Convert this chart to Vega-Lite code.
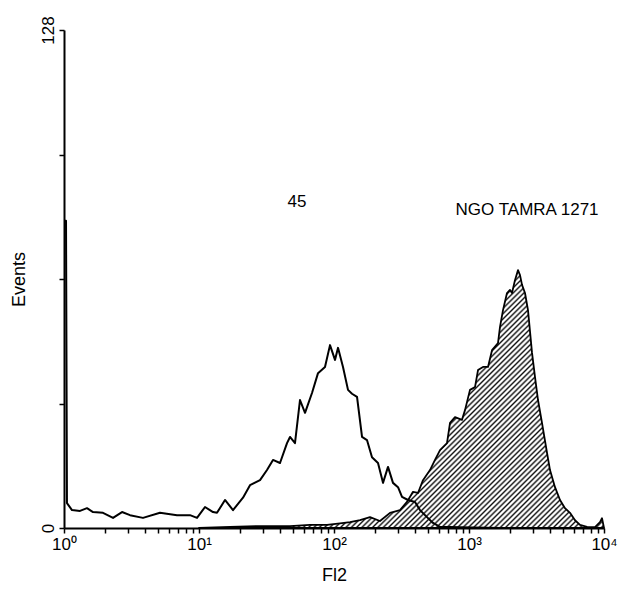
{
 "$schema": "https://vega.github.io/schema/vega-lite/v6.json",
 "width": 540,
 "height": 498,
 "autosize": "none",
 "padding": {"left": 64, "top": 30, "right": 37, "bottom": 66},
 "background": "white",
 "config": {"view": {"stroke": null}, "font": "Liberation Sans"},
 "datasets": {
  "open": [
   {"fl2": 1, "events": 79}, {"fl2": 1.035, "events": 79}, {"fl2": 1.052, "events": 6.4}, {"fl2": 1.146, "events": 4.6},
   {"fl2": 1.314, "events": 4.4}, {"fl2": 1.48, "events": 5.1}, {"fl2": 1.64, "events": 4.1}, {"fl2": 1.945, "events": 3.9},
   {"fl2": 2.307, "events": 2.6}, {"fl2": 2.69, "events": 4.1}, {"fl2": 3.083, "events": 3.3}, {"fl2": 3.847, "events": 2.6},
   {"fl2": 5.141, "events": 3.9}, {"fl2": 6.871, "events": 3.3}, {"fl2": 8.577, "events": 3.3}, {"fl2": 9.665, "events": 2.6},
   {"fl2": 11.08, "events": 5.4}, {"fl2": 12.7, "events": 4.1}, {"fl2": 13.59, "events": 3.9}, {"fl2": 15.58, "events": 7.2},
   {"fl2": 17.86, "events": 4.6}, {"fl2": 21.18, "events": 7.8}, {"fl2": 23.87, "events": 11}, {"fl2": 28.31, "events": 12.3},
   {"fl2": 31.89, "events": 14.9}, {"fl2": 35.33, "events": 17.5}, {"fl2": 39.81, "events": 16.7}, {"fl2": 44.87, "events": 21.8},
   {"fl2": 47.22, "events": 23.4}, {"fl2": 51.41, "events": 21.8}, {"fl2": 55.99, "events": 32.9}, {"fl2": 60.99, "events": 29.6},
   {"fl2": 68.71, "events": 34.7}, {"fl2": 76.13, "events": 39.8}, {"fl2": 85.77, "events": 41.4}, {"fl2": 93.41, "events": 47},
   {"fl2": 101.7, "events": 43.2}, {"fl2": 107.1, "events": 46.3}, {"fl2": 116.6, "events": 41.4}, {"fl2": 127, "events": 35.5},
   {"fl2": 135.9, "events": 34.5}, {"fl2": 148.1, "events": 33.7}, {"fl2": 161.3, "events": 23.4}, {"fl2": 175.5, "events": 22.6},
   {"fl2": 191.2, "events": 18.2}, {"fl2": 211.8, "events": 16.7}, {"fl2": 230.7, "events": 11.6}, {"fl2": 251.2, "events": 15.7},
   {"fl2": 273.5, "events": 11.6}, {"fl2": 298, "events": 10.5}, {"fl2": 319, "events": 8}, {"fl2": 353.3, "events": 7.2},
   {"fl2": 398.1, "events": 6.7}, {"fl2": 433.5, "events": 4.6}, {"fl2": 488.6, "events": 2.8}, {"fl2": 541.2, "events": 1.3},
   {"fl2": 610, "events": 0.3}, {"fl2": 857.7, "events": 0.2}, {"fl2": 1697, "events": 0}, {"fl2": 3981, "events": 0},
   {"fl2": 10000, "events": 0}
  ],
  "filled": [
   {"fl2": 10, "events": 0}, {"fl2": 16.97, "events": 0.3}, {"fl2": 28.31, "events": 0.5}, {"fl2": 47.22, "events": 0.5},
   {"fl2": 66.4, "events": 0.8}, {"fl2": 88.8, "events": 0.8}, {"fl2": 110.8, "events": 1.2}, {"fl2": 131.4, "events": 1.5},
   {"fl2": 155.8, "events": 2.0}, {"fl2": 184.8, "events": 2.8}, {"fl2": 219.1, "events": 1.8}, {"fl2": 259.9, "events": 3.9},
   {"fl2": 308.2, "events": 4.6}, {"fl2": 347.3, "events": 6.7}, {"fl2": 384.8, "events": 9.3}, {"fl2": 419, "events": 9.0},
   {"fl2": 456.3, "events": 12.3}, {"fl2": 514.1, "events": 14.9}, {"fl2": 560, "events": 17.5}, {"fl2": 610, "events": 20},
   {"fl2": 687.1, "events": 21.8}, {"fl2": 723.4, "events": 27}, {"fl2": 787.7, "events": 28.5}, {"fl2": 887.4, "events": 27.8},
   {"fl2": 934.1, "events": 30.3}, {"fl2": 1017, "events": 35.5}, {"fl2": 1108, "events": 36.2}, {"fl2": 1166, "events": 40.6},
   {"fl2": 1270, "events": 41.4}, {"fl2": 1383, "events": 41.4}, {"fl2": 1481, "events": 45.7}, {"fl2": 1640, "events": 47.5},
   {"fl2": 1697, "events": 51.7}, {"fl2": 1786, "events": 56}, {"fl2": 1912, "events": 60.4}, {"fl2": 2012, "events": 61.2},
   {"fl2": 2082, "events": 60.4}, {"fl2": 2191, "events": 63.7}, {"fl2": 2307, "events": 66.3}, {"fl2": 2387, "events": 65},
   {"fl2": 2470, "events": 62.5}, {"fl2": 2599, "events": 60.4}, {"fl2": 2735, "events": 56}, {"fl2": 2930, "events": 45},
   {"fl2": 3083, "events": 38.8}, {"fl2": 3244, "events": 32.9}, {"fl2": 3473, "events": 27}, {"fl2": 3784, "events": 19.3},
   {"fl2": 3981, "events": 14.9}, {"fl2": 4335, "events": 10.5}, {"fl2": 4722, "events": 7.2}, {"fl2": 5141, "events": 5.1},
   {"fl2": 5599, "events": 3.9}, {"fl2": 6099, "events": 2}, {"fl2": 6642, "events": 0.8}, {"fl2": 7484, "events": 0.3},
   {"fl2": 8577, "events": 0.2}, {"fl2": 9341, "events": 1.5}, {"fl2": 9665, "events": 2.5}, {"fl2": 10000, "events": 0}
  ],
  "notes": [
   {"fl2": 53.2, "events": 83.8, "label": "45"},
   {"fl2": 2691, "events": 81.7, "label": "NGO TAMRA 1271"}
  ]
 },
 "encoding": {
  "x": {
   "field": "fl2", "type": "quantitative",
   "scale": {"type": "log", "domain": [1, 10000]},
   "axis": {
    "title": "Fl2",
    "values": [1,2,3,4,5,6,7,8,9,10,20,30,40,50,60,70,80,90,100,200,300,400,500,600,700,800,900,1000,2000,3000,4000,5000,6000,7000,8000,9000,10000],
    "labelExpr": "datum.value==1?'10⁰':datum.value==10?'10¹':datum.value==100?'10²':datum.value==1000?'10³':datum.value==10000?'10⁴':''",
    "labelOverlap": false, "labelFlush": false, "grid": false,
    "tickSize": 5, "tickWidth": 1.5, "tickColor": "black",
    "domainColor": "black", "domainWidth": 2,
    "labelColor": "black", "labelFontSize": 17, "labelFont": "Liberation Sans", "labelPadding": 3,
    "titleColor": "black", "titleFontSize": 18, "titleFontWeight": "normal", "titleFont": "Liberation Sans", "titlePadding": 14
   }
  },
  "y": {
   "field": "events", "type": "quantitative",
   "scale": {"domain": [0, 128], "nice": false},
   "axis": {
    "title": "Events",
    "values": [0, 32, 64, 96, 128],
    "labelExpr": "datum.value==0||datum.value==128?datum.label:''",
    "labelAngle": -90, "grid": false,
    "tickSize": 5, "tickWidth": 1.5, "tickColor": "black",
    "domainColor": "black", "domainWidth": 2,
    "labelColor": "black", "labelFontSize": 17, "labelFont": "Liberation Sans", "labelPadding": 2,
    "titleColor": "black", "titleFontSize": 18, "titleFontWeight": "normal", "titleFont": "Liberation Sans", "titlePadding": 11
   }
  }
 },
 "layer": [
  {
   "data": {"name": "filled"},
   "mark": {
    "type": "area", "stroke": "black", "strokeWidth": 1.8, "strokeJoin": "round",
    "fill": {"gradient": "linear", "x1": 0, "y1": 0, "x2": 1.163, "y2": 0.747, "stops": [
{"offset":0,"color":"#fff"},{"offset":0.003,"color":"#111"},{"offset":0.006,"color":"#fff"},
{"offset":0.008,"color":"#fff"},{"offset":0.011,"color":"#111"},{"offset":0.014,"color":"#fff"},
{"offset":0.016,"color":"#fff"},{"offset":0.019,"color":"#111"},{"offset":0.022,"color":"#fff"},
{"offset":0.024,"color":"#fff"},{"offset":0.027,"color":"#111"},{"offset":0.03,"color":"#fff"},
{"offset":0.032,"color":"#fff"},{"offset":0.035,"color":"#111"},{"offset":0.038,"color":"#fff"},
{"offset":0.04,"color":"#fff"},{"offset":0.043,"color":"#111"},{"offset":0.046,"color":"#fff"},
{"offset":0.048,"color":"#fff"},{"offset":0.051,"color":"#111"},{"offset":0.054,"color":"#fff"},
{"offset":0.056,"color":"#fff"},{"offset":0.059,"color":"#111"},{"offset":0.062,"color":"#fff"},
{"offset":0.064,"color":"#fff"},{"offset":0.067,"color":"#111"},{"offset":0.07,"color":"#fff"},
{"offset":0.072,"color":"#fff"},{"offset":0.075,"color":"#111"},{"offset":0.078,"color":"#fff"},
{"offset":0.08,"color":"#fff"},{"offset":0.083,"color":"#111"},{"offset":0.086,"color":"#fff"},
{"offset":0.088,"color":"#fff"},{"offset":0.091,"color":"#111"},{"offset":0.094,"color":"#fff"},
{"offset":0.096,"color":"#fff"},{"offset":0.099,"color":"#111"},{"offset":0.102,"color":"#fff"},
{"offset":0.104,"color":"#fff"},{"offset":0.107,"color":"#111"},{"offset":0.11,"color":"#fff"},
{"offset":0.112,"color":"#fff"},{"offset":0.115,"color":"#111"},{"offset":0.118,"color":"#fff"},
{"offset":0.12,"color":"#fff"},{"offset":0.123,"color":"#111"},{"offset":0.126,"color":"#fff"},
{"offset":0.128,"color":"#fff"},{"offset":0.131,"color":"#111"},{"offset":0.134,"color":"#fff"},
{"offset":0.136,"color":"#fff"},{"offset":0.139,"color":"#111"},{"offset":0.142,"color":"#fff"},
{"offset":0.144,"color":"#fff"},{"offset":0.147,"color":"#111"},{"offset":0.15,"color":"#fff"},
{"offset":0.152,"color":"#fff"},{"offset":0.155,"color":"#111"},{"offset":0.158,"color":"#fff"},
{"offset":0.16,"color":"#fff"},{"offset":0.163,"color":"#111"},{"offset":0.166,"color":"#fff"},
{"offset":0.168,"color":"#fff"},{"offset":0.171,"color":"#111"},{"offset":0.174,"color":"#fff"},
{"offset":0.176,"color":"#fff"},{"offset":0.179,"color":"#111"},{"offset":0.182,"color":"#fff"},
{"offset":0.184,"color":"#fff"},{"offset":0.187,"color":"#111"},{"offset":0.19,"color":"#fff"},
{"offset":0.192,"color":"#fff"},{"offset":0.195,"color":"#111"},{"offset":0.198,"color":"#fff"},
{"offset":0.2,"color":"#fff"},{"offset":0.203,"color":"#111"},{"offset":0.206,"color":"#fff"},
{"offset":0.208,"color":"#fff"},{"offset":0.211,"color":"#111"},{"offset":0.214,"color":"#fff"},
{"offset":0.216,"color":"#fff"},{"offset":0.219,"color":"#111"},{"offset":0.222,"color":"#fff"},
{"offset":0.224,"color":"#fff"},{"offset":0.227,"color":"#111"},{"offset":0.23,"color":"#fff"},
{"offset":0.232,"color":"#fff"},{"offset":0.235,"color":"#111"},{"offset":0.238,"color":"#fff"},
{"offset":0.24,"color":"#fff"},{"offset":0.243,"color":"#111"},{"offset":0.246,"color":"#fff"},
{"offset":0.248,"color":"#fff"},{"offset":0.251,"color":"#111"},{"offset":0.254,"color":"#fff"},
{"offset":0.256,"color":"#fff"},{"offset":0.259,"color":"#111"},{"offset":0.262,"color":"#fff"},
{"offset":0.264,"color":"#fff"},{"offset":0.267,"color":"#111"},{"offset":0.27,"color":"#fff"},
{"offset":0.272,"color":"#fff"},{"offset":0.275,"color":"#111"},{"offset":0.278,"color":"#fff"},
{"offset":0.28,"color":"#fff"},{"offset":0.283,"color":"#111"},{"offset":0.286,"color":"#fff"},
{"offset":0.288,"color":"#fff"},{"offset":0.291,"color":"#111"},{"offset":0.294,"color":"#fff"},
{"offset":0.296,"color":"#fff"},{"offset":0.299,"color":"#111"},{"offset":0.302,"color":"#fff"},
{"offset":0.304,"color":"#fff"},{"offset":0.307,"color":"#111"},{"offset":0.31,"color":"#fff"},
{"offset":0.312,"color":"#fff"},{"offset":0.315,"color":"#111"},{"offset":0.318,"color":"#fff"},
{"offset":0.32,"color":"#fff"},{"offset":0.323,"color":"#111"},{"offset":0.326,"color":"#fff"},
{"offset":0.328,"color":"#fff"},{"offset":0.331,"color":"#111"},{"offset":0.334,"color":"#fff"},
{"offset":0.336,"color":"#fff"},{"offset":0.339,"color":"#111"},{"offset":0.342,"color":"#fff"},
{"offset":0.344,"color":"#fff"},{"offset":0.347,"color":"#111"},{"offset":0.35,"color":"#fff"},
{"offset":0.352,"color":"#fff"},{"offset":0.355,"color":"#111"},{"offset":0.358,"color":"#fff"},
{"offset":0.36,"color":"#fff"},{"offset":0.363,"color":"#111"},{"offset":0.366,"color":"#fff"},
{"offset":0.368,"color":"#fff"},{"offset":0.371,"color":"#111"},{"offset":0.374,"color":"#fff"},
{"offset":0.376,"color":"#fff"},{"offset":0.379,"color":"#111"},{"offset":0.382,"color":"#fff"},
{"offset":0.384,"color":"#fff"},{"offset":0.387,"color":"#111"},{"offset":0.39,"color":"#fff"},
{"offset":0.392,"color":"#fff"},{"offset":0.395,"color":"#111"},{"offset":0.398,"color":"#fff"},
{"offset":0.4,"color":"#fff"},{"offset":0.403,"color":"#111"},{"offset":0.406,"color":"#fff"},
{"offset":0.408,"color":"#fff"},{"offset":0.411,"color":"#111"},{"offset":0.414,"color":"#fff"},
{"offset":0.416,"color":"#fff"},{"offset":0.419,"color":"#111"},{"offset":0.422,"color":"#fff"},
{"offset":0.424,"color":"#fff"},{"offset":0.427,"color":"#111"},{"offset":0.43,"color":"#fff"},
{"offset":0.432,"color":"#fff"},{"offset":0.435,"color":"#111"},{"offset":0.438,"color":"#fff"},
{"offset":0.44,"color":"#fff"},{"offset":0.443,"color":"#111"},{"offset":0.446,"color":"#fff"},
{"offset":0.448,"color":"#fff"},{"offset":0.451,"color":"#111"},{"offset":0.454,"color":"#fff"},
{"offset":0.456,"color":"#fff"},{"offset":0.459,"color":"#111"},{"offset":0.462,"color":"#fff"},
{"offset":0.464,"color":"#fff"},{"offset":0.467,"color":"#111"},{"offset":0.47,"color":"#fff"},
{"offset":0.472,"color":"#fff"},{"offset":0.475,"color":"#111"},{"offset":0.478,"color":"#fff"},
{"offset":0.48,"color":"#fff"},{"offset":0.483,"color":"#111"},{"offset":0.486,"color":"#fff"},
{"offset":0.488,"color":"#fff"},{"offset":0.491,"color":"#111"},{"offset":0.494,"color":"#fff"},
{"offset":0.496,"color":"#fff"},{"offset":0.499,"color":"#111"},{"offset":0.502,"color":"#fff"},
{"offset":0.504,"color":"#fff"},{"offset":0.507,"color":"#111"},{"offset":0.51,"color":"#fff"},
{"offset":0.512,"color":"#fff"},{"offset":0.515,"color":"#111"},{"offset":0.518,"color":"#fff"},
{"offset":0.52,"color":"#fff"},{"offset":0.523,"color":"#111"},{"offset":0.526,"color":"#fff"},
{"offset":0.528,"color":"#fff"},{"offset":0.531,"color":"#111"},{"offset":0.534,"color":"#fff"},
{"offset":0.536,"color":"#fff"},{"offset":0.539,"color":"#111"},{"offset":0.542,"color":"#fff"},
{"offset":0.544,"color":"#fff"},{"offset":0.547,"color":"#111"},{"offset":0.55,"color":"#fff"},
{"offset":0.552,"color":"#fff"},{"offset":0.555,"color":"#111"},{"offset":0.558,"color":"#fff"},
{"offset":0.56,"color":"#fff"},{"offset":0.563,"color":"#111"},{"offset":0.566,"color":"#fff"},
{"offset":0.568,"color":"#fff"},{"offset":0.571,"color":"#111"},{"offset":0.574,"color":"#fff"},
{"offset":0.576,"color":"#fff"},{"offset":0.579,"color":"#111"},{"offset":0.582,"color":"#fff"},
{"offset":0.584,"color":"#fff"},{"offset":0.587,"color":"#111"},{"offset":0.59,"color":"#fff"},
{"offset":0.592,"color":"#fff"},{"offset":0.595,"color":"#111"},{"offset":0.598,"color":"#fff"},
{"offset":0.6,"color":"#fff"},{"offset":0.603,"color":"#111"},{"offset":0.606,"color":"#fff"},
{"offset":0.608,"color":"#fff"},{"offset":0.611,"color":"#111"},{"offset":0.614,"color":"#fff"},
{"offset":0.616,"color":"#fff"},{"offset":0.619,"color":"#111"},{"offset":0.622,"color":"#fff"},
{"offset":0.624,"color":"#fff"},{"offset":0.627,"color":"#111"},{"offset":0.63,"color":"#fff"},
{"offset":0.632,"color":"#fff"},{"offset":0.635,"color":"#111"},{"offset":0.638,"color":"#fff"},
{"offset":0.64,"color":"#fff"},{"offset":0.643,"color":"#111"},{"offset":0.646,"color":"#fff"},
{"offset":0.648,"color":"#fff"},{"offset":0.651,"color":"#111"},{"offset":0.654,"color":"#fff"},
{"offset":0.656,"color":"#fff"},{"offset":0.659,"color":"#111"},{"offset":0.662,"color":"#fff"},
{"offset":0.664,"color":"#fff"},{"offset":0.667,"color":"#111"},{"offset":0.67,"color":"#fff"},
{"offset":0.672,"color":"#fff"},{"offset":0.675,"color":"#111"},{"offset":0.678,"color":"#fff"},
{"offset":0.68,"color":"#fff"},{"offset":0.683,"color":"#111"},{"offset":0.686,"color":"#fff"},
{"offset":0.688,"color":"#fff"},{"offset":0.691,"color":"#111"},{"offset":0.694,"color":"#fff"},
{"offset":0.696,"color":"#fff"},{"offset":0.699,"color":"#111"},{"offset":0.702,"color":"#fff"},
{"offset":0.704,"color":"#fff"},{"offset":0.707,"color":"#111"},{"offset":0.71,"color":"#fff"},
{"offset":0.712,"color":"#fff"},{"offset":0.715,"color":"#111"},{"offset":0.718,"color":"#fff"},
{"offset":0.72,"color":"#fff"},{"offset":0.723,"color":"#111"},{"offset":0.726,"color":"#fff"},
{"offset":0.728,"color":"#fff"},{"offset":0.731,"color":"#111"},{"offset":0.734,"color":"#fff"},
{"offset":0.736,"color":"#fff"},{"offset":0.739,"color":"#111"},{"offset":0.742,"color":"#fff"},
{"offset":0.744,"color":"#fff"},{"offset":0.747,"color":"#111"},{"offset":0.75,"color":"#fff"},
{"offset":0.752,"color":"#fff"},{"offset":0.755,"color":"#111"},{"offset":0.758,"color":"#fff"},
{"offset":0.76,"color":"#fff"},{"offset":0.763,"color":"#111"},{"offset":0.766,"color":"#fff"},
{"offset":0.768,"color":"#fff"},{"offset":0.771,"color":"#111"},{"offset":0.774,"color":"#fff"},
{"offset":0.776,"color":"#fff"},{"offset":0.779,"color":"#111"},{"offset":0.782,"color":"#fff"},
{"offset":0.784,"color":"#fff"},{"offset":0.787,"color":"#111"},{"offset":0.79,"color":"#fff"},
{"offset":0.792,"color":"#fff"},{"offset":0.795,"color":"#111"},{"offset":0.798,"color":"#fff"},
{"offset":0.8,"color":"#fff"},{"offset":0.803,"color":"#111"},{"offset":0.806,"color":"#fff"},
{"offset":0.808,"color":"#fff"},{"offset":0.811,"color":"#111"},{"offset":0.814,"color":"#fff"},
{"offset":0.816,"color":"#fff"},{"offset":0.819,"color":"#111"},{"offset":0.822,"color":"#fff"},
{"offset":0.824,"color":"#fff"},{"offset":0.827,"color":"#111"},{"offset":0.83,"color":"#fff"},
{"offset":0.832,"color":"#fff"},{"offset":0.835,"color":"#111"},{"offset":0.838,"color":"#fff"},
{"offset":0.84,"color":"#fff"},{"offset":0.843,"color":"#111"},{"offset":0.846,"color":"#fff"},
{"offset":0.848,"color":"#fff"},{"offset":0.851,"color":"#111"},{"offset":0.854,"color":"#fff"},
{"offset":0.856,"color":"#fff"},{"offset":0.859,"color":"#111"},{"offset":0.862,"color":"#fff"},
{"offset":0.864,"color":"#fff"},{"offset":0.867,"color":"#111"},{"offset":0.87,"color":"#fff"},
{"offset":0.872,"color":"#fff"},{"offset":0.875,"color":"#111"},{"offset":0.878,"color":"#fff"},
{"offset":0.88,"color":"#fff"},{"offset":0.883,"color":"#111"},{"offset":0.886,"color":"#fff"},
{"offset":0.888,"color":"#fff"},{"offset":0.891,"color":"#111"},{"offset":0.894,"color":"#fff"},
{"offset":0.896,"color":"#fff"},{"offset":0.899,"color":"#111"},{"offset":0.902,"color":"#fff"},
{"offset":0.904,"color":"#fff"},{"offset":0.907,"color":"#111"},{"offset":0.91,"color":"#fff"},
{"offset":0.912,"color":"#fff"},{"offset":0.915,"color":"#111"},{"offset":0.918,"color":"#fff"},
{"offset":0.92,"color":"#fff"},{"offset":0.923,"color":"#111"},{"offset":0.926,"color":"#fff"},
{"offset":0.928,"color":"#fff"},{"offset":0.931,"color":"#111"},{"offset":0.934,"color":"#fff"},
{"offset":0.936,"color":"#fff"},{"offset":0.939,"color":"#111"},{"offset":0.942,"color":"#fff"},
{"offset":0.944,"color":"#fff"},{"offset":0.947,"color":"#111"},{"offset":0.95,"color":"#fff"},
{"offset":0.952,"color":"#fff"},{"offset":0.955,"color":"#111"},{"offset":0.958,"color":"#fff"},
{"offset":0.96,"color":"#fff"},{"offset":0.963,"color":"#111"},{"offset":0.966,"color":"#fff"},
{"offset":0.968,"color":"#fff"},{"offset":0.971,"color":"#111"},{"offset":0.974,"color":"#fff"},
{"offset":0.976,"color":"#fff"},{"offset":0.979,"color":"#111"},{"offset":0.982,"color":"#fff"},
{"offset":0.984,"color":"#fff"},{"offset":0.987,"color":"#111"},{"offset":0.99,"color":"#fff"},
{"offset":0.992,"color":"#fff"},{"offset":0.995,"color":"#111"},{"offset":0.998,"color":"#fff"},
{"offset":1,"color":"#fff"}
    ]}
   }
  },
  {
   "data": {"name": "open"},
   "mark": {"type": "line", "color": "black", "strokeWidth": 2, "strokeJoin": "round"}
  },
  {
   "data": {"name": "notes"},
   "mark": {"type": "text", "fontSize": 17, "font": "Liberation Sans", "color": "black", "baseline": "middle", "align": "center"},
   "encoding": {"text": {"field": "label", "type": "nominal"}}
  }
 ]
}
